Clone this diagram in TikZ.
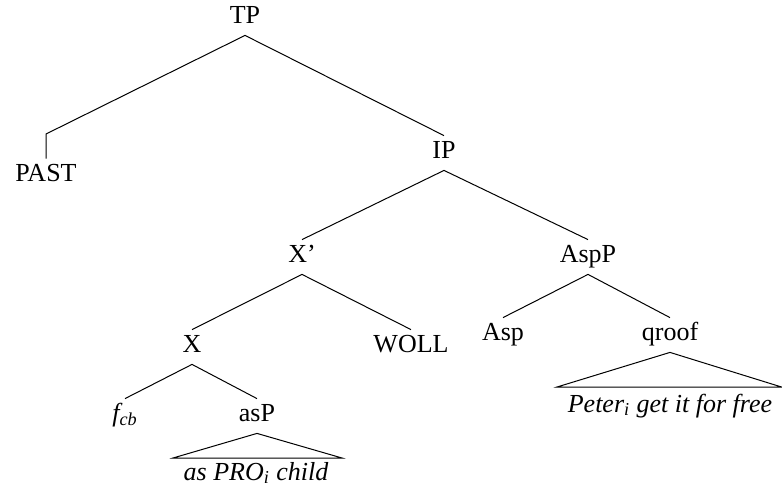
\documentclass[tikz,border=0pt]{standalone}
\usepackage{fontspec}
\setmainfont{Liberation Serif}[ItalicFont={Liberation Serif Italic}]
\begin{document}
\begin{tikzpicture}[x=0.5pt,y=-0.5pt,
  lbl/.style={anchor=base,inner sep=0pt,text height=11pt,text depth=6pt,font=\fontsize{13}{15}\selectfont},
  leaf/.style={anchor=base,inner sep=0pt,font=\fontsize{13}{15}\selectfont\itshape},
  edge/.style={draw=black,line width=0.5pt}]
\useasboundingbox (0,0) rectangle (782,488);
% nodes
\node[lbl] (tp)   at (245,23)  {TP};
\node[lbl] (past) at (46,181)  {PAST};
\node[lbl] (ip)   at (444,158) {IP};
\node[lbl] (xbar) at (302,262) {X’};
\node[lbl] (aspp) at (588,262) {AspP};
\node[lbl] (x)    at (192,352) {X};
\node[lbl] (woll) at (411,352) {WOLL};
\node[lbl] (asp)  at (503,340) {Asp};
\node[lbl] (qroof) at (670,340) {qroof};
\node[lbl,font=\fontsize{13}{15}\selectfont\itshape] (fcb) at (125,421) {f\textsubscript{cb}};
\node[lbl] (asph) at (257,421) {asP};
\node[leaf] (leafa) at (256,480) {as PRO\textsubscript{i} child};
\node[leaf] (leafb) at (670,412) {Peter\textsubscript{i} get it for free};
% free ends
\coordinate (pastbend) at (46,134);
\coordinate (asl) at (173,458);
\coordinate (asr) at (342,458);
\coordinate (ql) at (557,387);
\coordinate (qr) at (781.5,387);
% edges
\draw[edge] (tp.south) -- (pastbend) -- (past.north);
\draw[edge] (tp.south) -- (ip.north);
\draw[edge] (ip.south) -- (xbar.north);
\draw[edge] (ip.south) -- (aspp.north);
\draw[edge] (xbar.south) -- (x.north);
\draw[edge] (xbar.south) -- (woll.north);
\draw[edge] (aspp.south) -- (asp.north);
\draw[edge] (aspp.south) -- (qroof.north);
\draw[edge] (x.south) -- (fcb.north);
\draw[edge] (x.south) -- (asph.north);
\draw[edge] (asph.south) -- (asl) -- (asr) -- cycle;
\draw[edge] (qroof.south) -- (ql) -- (qr) -- cycle;
\end{tikzpicture}
\end{document}
